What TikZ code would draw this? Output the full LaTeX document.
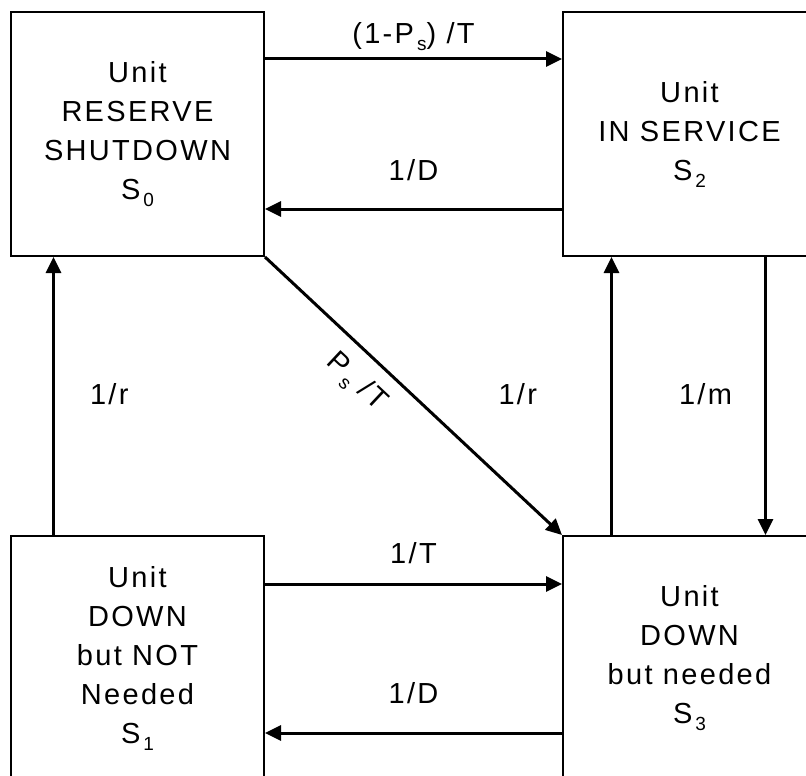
\documentclass[tikz,border=0pt]{standalone}
\usepackage{fontspec}
\setmainfont{Liberation Sans}[LetterSpace=8]
\usetikzlibrary{arrows.meta,positioning}
\newcommand{\lowsub}[1]{\kern1.5pt\raisebox{-3.5pt}{\fontsize{9.5}{10}\selectfont #1}}

\begin{document}
\begin{tikzpicture}[
  font=\fontsize{14.5}{19.5}\selectfont,
  box/.style={draw,line width=1pt,align=center,minimum width=126.5pt,minimum height=122pt,inner sep=0pt},
  arr/.style={-{Triangle[length=8pt,width=7.5pt]},line width=1.5pt},
  lbl/.style={inner sep=0pt}
]
\useasboundingbox (0,0) rectangle (403pt,-387.5pt);
% states
\node[box,anchor=north west] (s0) at (5pt,-5.5pt) {Unit\\RESERVE\\SHUTDOWN\\S\lowsub{0}};
\node[box,right=148.5pt of s0] (s2) {Unit\\IN SERVICE\\S\lowsub{2}};
\node[box,below=139pt of s0] (s1) {Unit\\DOWN\\but NOT\\Needed\\S\lowsub{1}};
\node[box,below=139pt of s2] (s3) {Unit\\DOWN\\but needed\\S\lowsub{3}};

% top pair
\draw[arr] ([yshift=37.5pt]s0.east) -- node[lbl,anchor=base,yshift=7.5pt] {(1-P\lowsub{s}) /T} ([yshift=37.5pt]s2.west);
\draw[arr] ([yshift=-37.5pt]s2.west) -- node[lbl,anchor=base,yshift=14.5pt] {1/D} ([yshift=-37.5pt]s0.east);
% verticals
\draw[arr] ([xshift=-42pt]s1.north) -- node[lbl,anchor=base west,xshift=17.5pt,yshift=-4pt] {1/r} ([xshift=-42pt]s0.south);
\draw[arr] ([xshift=-39pt]s3.north) -- node[lbl,anchor=base east,xshift=-36.5pt,yshift=-4pt] {1/r} ([xshift=-39pt]s2.south);
\draw[arr] ([xshift=38pt]s2.south) -- node[lbl,anchor=base east,xshift=-16pt,yshift=-4pt] {1/m} ([xshift=38pt]s3.north);
% diagonal
\draw[arr] (s0.south east) -- node[lbl,sloped,pos=0.375,below=7pt] {P\lowsub{s} /T} (s3.north west);
% bottom pair
\draw[arr] ([yshift=37pt]s1.east) -- node[lbl,anchor=base,yshift=10.5pt] {1/T} ([yshift=37pt]s3.west);
\draw[arr] ([yshift=-37.5pt]s3.west) -- node[lbl,anchor=base,yshift=15pt] {1/D} ([yshift=-37.5pt]s1.east);
\end{tikzpicture}
\end{document}
